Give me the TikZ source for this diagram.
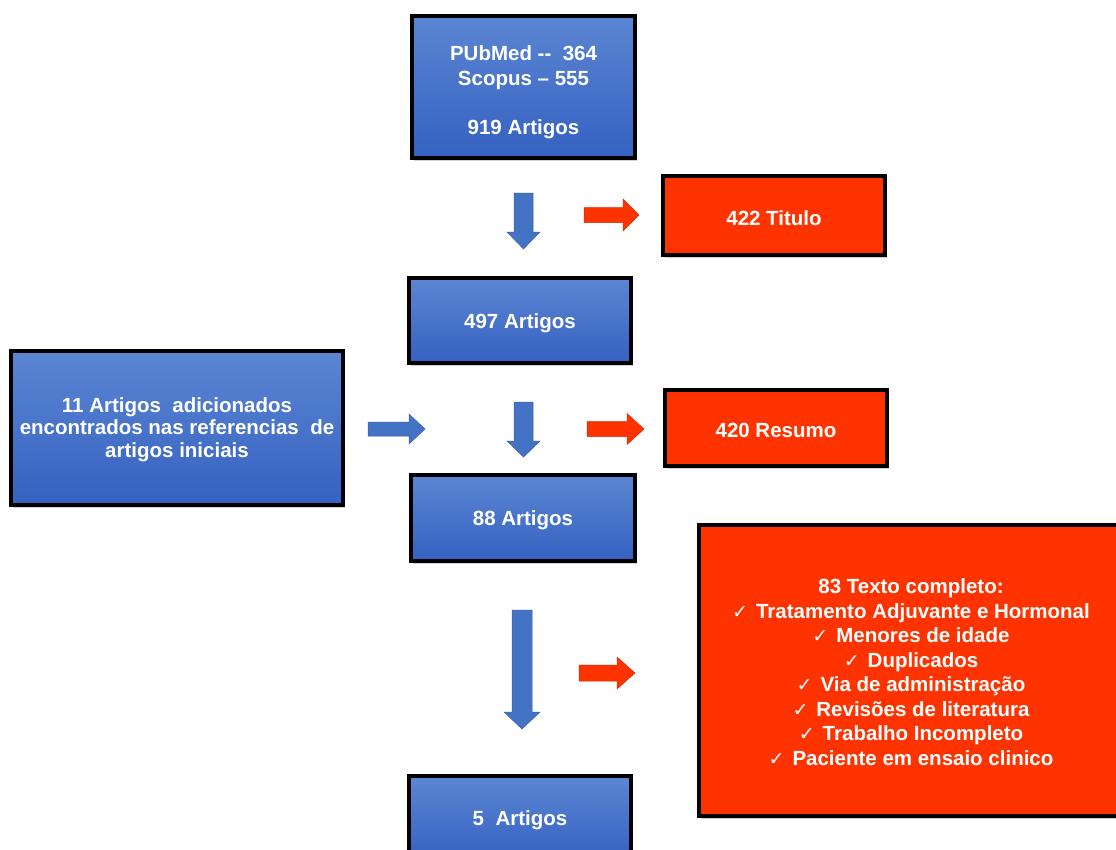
\documentclass[tikz,border=0pt]{standalone}
\usepackage{fontspec}
\setmainfont{Liberation Sans}
\newfontfamily\symfont{DejaVu Sans}
\usetikzlibrary{shadows}
\definecolor{bluetop}{HTML}{5B86D3}
\definecolor{bluebot}{HTML}{3561C1}
\definecolor{redfill}{HTML}{FF3300}
\definecolor{arrowblue}{HTML}{4472C4}
\definecolor{arroworange}{HTML}{FF3300}
\newcommand\ck{{\mdseries\symfont\fontsize{19}{19}\selectfont ✓}\hspace{8pt}}
\newcommand\up[1]{\rule{0pt}{#1}}
\begin{document}
\begin{tikzpicture}[x=1pt,y=-1pt,
  box/.style={draw=black, line width=4pt, text=white,
    font=\bfseries\fontsize{20.5}{24.5}\selectfont, align=center, inner sep=0pt,
    drop shadow={opacity=0.35, shadow xshift=2pt, shadow yshift=-2.5pt}},
  bluebox/.style={box, top color=bluetop, bottom color=bluebot},
  redbox/.style={box, fill=redfill},
  barrow/.style={fill=arrowblue, draw=arrowblue!85!black, line width=0.5pt},
  rarrow/.style={fill=arroworange, draw=arroworange!85!black, line width=0.5pt}]
\useasboundingbox (0,0) rectangle (1116,849);
\fill[white] (0,0) rectangle (1116,849);
\begin{scope}
\clip (0,0) rectangle (1116,849);
% boxes
\node[bluebox, minimum width=223pt, minimum height=142pt] (db) at (523.5,87)
  {\up{25pt}PUbMed -{}-\ \ 364\\ Scopus -- 555\\ \mbox{}\\ 919 Artigos};
\node[redbox, minimum width=222pt, minimum height=79pt] (tit) at (774,215.5) {\up{20pt}422 Titulo};
\node[bluebox, minimum width=222pt, minimum height=85pt] (a497) at (520,320.5) {\up{21pt}497 Artigos};
\node[bluebox, minimum width=332pt, minimum height=154pt,
  font=\bfseries\fontsize{20.5}{22.5}\selectfont] (add) at (177,428)
  {\up{18pt}11 Artigos\ \ adicionados\\ encontrados nas referencias\ \ de\\ artigos iniciais};
\node[redbox, minimum width=222pt, minimum height=76pt] (res) at (776,428) {\up{20pt}420 Resumo};
\node[bluebox, minimum width=224pt, minimum height=86pt] (a88) at (523,518) {\up{20pt}88 Artigos};
\node[redbox, minimum width=424pt, minimum height=291pt] (full) at (911,670.5)
  {\up{18pt}83 Texto completo:\\
   \ck Tratamento Adjuvante e Hormonal\\
   \ck Menores de idade\\
   \ck Duplicados\\
   \ck Via de administração\\
   \ck Revisões de literatura\\
   \ck Trabalho Incompleto\\
   \ck Paciente em ensaio clinico};
\node[bluebox, minimum width=222pt, minimum height=85pt] (a5) at (520,818.5) {\up{18pt}5\ \ Artigos};
% block arrows
\path[barrow] (514,193) -- (533,193) -- (533,232) -- (540,232) -- (523.5,249) -- (507,232) -- (514,232) -- cycle;
\path[barrow] (514,402) -- (533,402) -- (533,441) -- (540,441) -- (523.5,457) -- (507,441) -- (514,441) -- cycle;
\path[barrow] (512,610) -- (532,610) -- (532,712) -- (540,712) -- (522,729) -- (504,712) -- (512,712) -- cycle;
\path[barrow] (368,422) -- (409,422) -- (409,414) -- (425,429) -- (409,444) -- (409,436) -- (368,436) -- cycle;
\path[rarrow] (584,207.5) -- (623,207.5) -- (623,199) -- (639,215) -- (623,231) -- (623,222.5) -- (584,222.5) -- cycle;
\path[rarrow] (587,421.5) -- (627,421.5) -- (627,413.5) -- (644,429) -- (627,444.5) -- (627,436.5) -- (587,436.5) -- cycle;
\path[rarrow] (579,665) -- (617,665) -- (617,657) -- (635,673) -- (617,689) -- (617,681) -- (579,681) -- cycle;
\end{scope}
\end{tikzpicture}
\end{document}
